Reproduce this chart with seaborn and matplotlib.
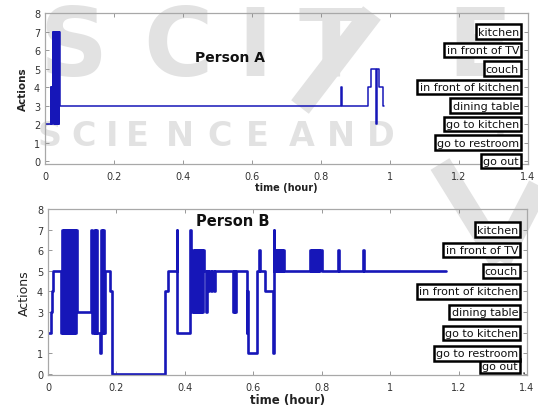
import matplotlib
matplotlib.use("Agg")
import matplotlib.pyplot as plt
from matplotlib.lines import Line2D
import seaborn as sns

# ------------------------------------------------------------------
# datos (tiempo en horas, accion 0..7)
# ------------------------------------------------------------------
acciones = ["go out", "go to restroom", "go to kitchen", "dining table",
            "in front of kitchen", "couch", "in front of TV", "kitchen"]

t_a = [0.000, 0.016, 0.018, 0.020, 0.022, 0.024, 0.026, 0.028, 0.030, 0.032,
       0.034, 0.036, 0.038, 0.040, 0.042, 0.044, 0.858, 0.862, 0.936, 0.945,
       0.960, 0.962, 0.968, 0.981, 0.982]
v_a = [2, 4, 2, 4, 7, 2, 7, 2, 7, 2,
       7, 2, 7, 2, 7, 3, 4, 3, 4, 5,
       2, 5, 4, 3, 3]

t_b = [0.000, 0.010, 0.012, 0.014, 0.037, 0.040, 0.043, 0.046, 0.049, 0.052,
       0.055, 0.058, 0.061, 0.064, 0.067, 0.070, 0.073, 0.076, 0.079, 0.082,
       0.084, 0.127, 0.130, 0.133, 0.136, 0.139, 0.142, 0.152, 0.154, 0.156,
       0.159, 0.162, 0.165, 0.167, 0.181, 0.186, 0.342, 0.350, 0.376, 0.378,
       0.415, 0.418, 0.420, 0.423, 0.426, 0.429, 0.432, 0.435, 0.438, 0.441,
       0.444, 0.447, 0.450, 0.453, 0.455, 0.462, 0.465, 0.468, 0.471, 0.476,
       0.479, 0.484, 0.487, 0.541, 0.544, 0.546, 0.549, 0.581, 0.583, 0.585,
       0.610, 0.618, 0.620, 0.634, 0.658, 0.660, 0.662, 0.664, 0.667, 0.670,
       0.673, 0.676, 0.679, 0.682, 0.685, 0.688, 0.691, 0.766, 0.769, 0.772,
       0.775, 0.778, 0.781, 0.784, 0.787, 0.790, 0.793, 0.796, 0.800, 0.849,
       0.851, 0.921, 0.923, 1.163]
v_b = [2, 3, 4, 5, 2, 7, 2, 7, 2, 7,
       2, 7, 2, 7, 2, 7, 2, 7, 2, 7,
       3, 7, 2, 7, 2, 7, 2, 1, 2, 7,
       2, 7, 2, 5, 4, 0, 4, 5, 7, 2,
       7, 5, 3, 6, 3, 6, 3, 6, 3, 6,
       3, 6, 3, 6, 5, 3, 5, 4, 5, 4,
       5, 4, 5, 3, 5, 3, 5, 2, 4, 1,
       5, 6, 5, 4, 1, 7, 5, 6, 5, 6,
       5, 6, 5, 6, 5, 6, 5, 6, 5, 6,
       5, 6, 5, 6, 5, 6, 5, 6, 5, 6,
       5, 6, 5, 5]

x_ticks = [0, 0.2, 0.4, 0.6, 0.8, 1, 1.2, 1.4]
x_tick_labels = ["0", "0.2", "0.4", "0.6", "0.8", "1", "1.2", "1.4"]

sns.set_theme(style="white")
plt.rcParams["font.family"] = ["DejaVu Sans"]

W, H = 538, 414
fig = plt.figure(figsize=(W / 100, H / 100), dpi=100)

# marca de agua (gris claro, detras de los ejes)
gris_wm = "#e2e2e2"
for letra, cx in zip("SCITE", [73, 178, 255, 331, 480]):
    fig.text(cx / W, 1 - 50 / H, letra, fontsize=68, fontweight="bold",
             color=gris_wm, ha="center", va="center", zorder=-5)
for letra, cx in zip("SCIENCEANDT", [50, 84, 112, 137, 180, 220, 257, 302, 341, 381, 500]):
    fig.text(cx / W, 1 - 136 / H, letra, fontsize=24, fontweight="bold",
             color=gris_wm, ha="center", va="center", zorder=-5)
for (x0, y0), (x1, y1) in [((440, 165), (500, 262)), ((545, 175), (500, 262)),
                           ((300, 108), (372, 14))]:
    fig.add_artist(Line2D([x0 / W, x1 / W], [1 - y0 / H, 1 - y1 / H],
                          color=gris_wm, lw=16, solid_capstyle="butt", zorder=-5))

ax_a = fig.add_axes([45 / W, 1 - 165 / H, 483 / W, 151 / H])
ax_b = fig.add_axes([48 / W, 1 - 376 / H, 479 / W, 166 / H])

paneles = [
    (ax_a, t_a, v_a, "Person A", (0.535, 5.6), 10, 1.1, -0.15, 7, 7.5),
    (ax_b, t_b, v_b, "Person B", (0.54, 7.45), 10.5, 1.9, -0.05, 8.5, 9),
]

caja = dict(boxstyle="square,pad=0.2", fc="white", ec="black", lw=1.8)

for ax, t, v, titulo, pos_tit, fs_tit, lw, ymin, fs_xl, fs_yl in paneles:
    ax.patch.set_alpha(0)
    sns.lineplot(x=t, y=v, ax=ax, color="#1616b8", lw=lw, drawstyle="steps-post",
                 sort=False, estimator=None)
    ax.set_xlim(0, 1.4)
    ax.set_ylim(ymin, 8)
    ax.set_xticks(x_ticks)
    ax.set_xticklabels(x_tick_labels)
    ax.set_yticks(range(9))
    ax.tick_params(direction="in", length=3, width=0.6, color="#888888",
                   labelsize=7, labelcolor="#333333", top=True, right=True,
                   bottom=True, left=True)
    ax.tick_params(axis="x", pad=5)
    for s in ax.spines.values():
        s.set_color("#a8a8a8")
        s.set_linewidth(0.9)
    ax.text(pos_tit[0], pos_tit[1], titulo, fontsize=fs_tit, fontweight="bold",
            ha="center", va="center", color="#111111")
    ax.set_xlabel("time (hour)", fontsize=fs_xl, fontweight="bold",
                  color="#222222", labelpad=1)
    ax.set_ylabel("Actions", fontsize=fs_yl, color="#222222", labelpad=4)

    for i, nombre in enumerate(acciones):
        if ax is ax_b and i == 0:
            ax.annotate(nombre, xy=(1.4, 0), xytext=(1.374, 0.38), fontsize=8,
                        ha="right", va="center", color="#111111", bbox=caja,
                        arrowprops=dict(arrowstyle="-", color="black", lw=1))
            continue
        ax.text(1.374, i, nombre, fontsize=8, ha="right", va="center",
                color="#111111", bbox=caja)

ax_a.yaxis.label.set_fontweight("bold")

fig.savefig("out.png", dpi=100)
